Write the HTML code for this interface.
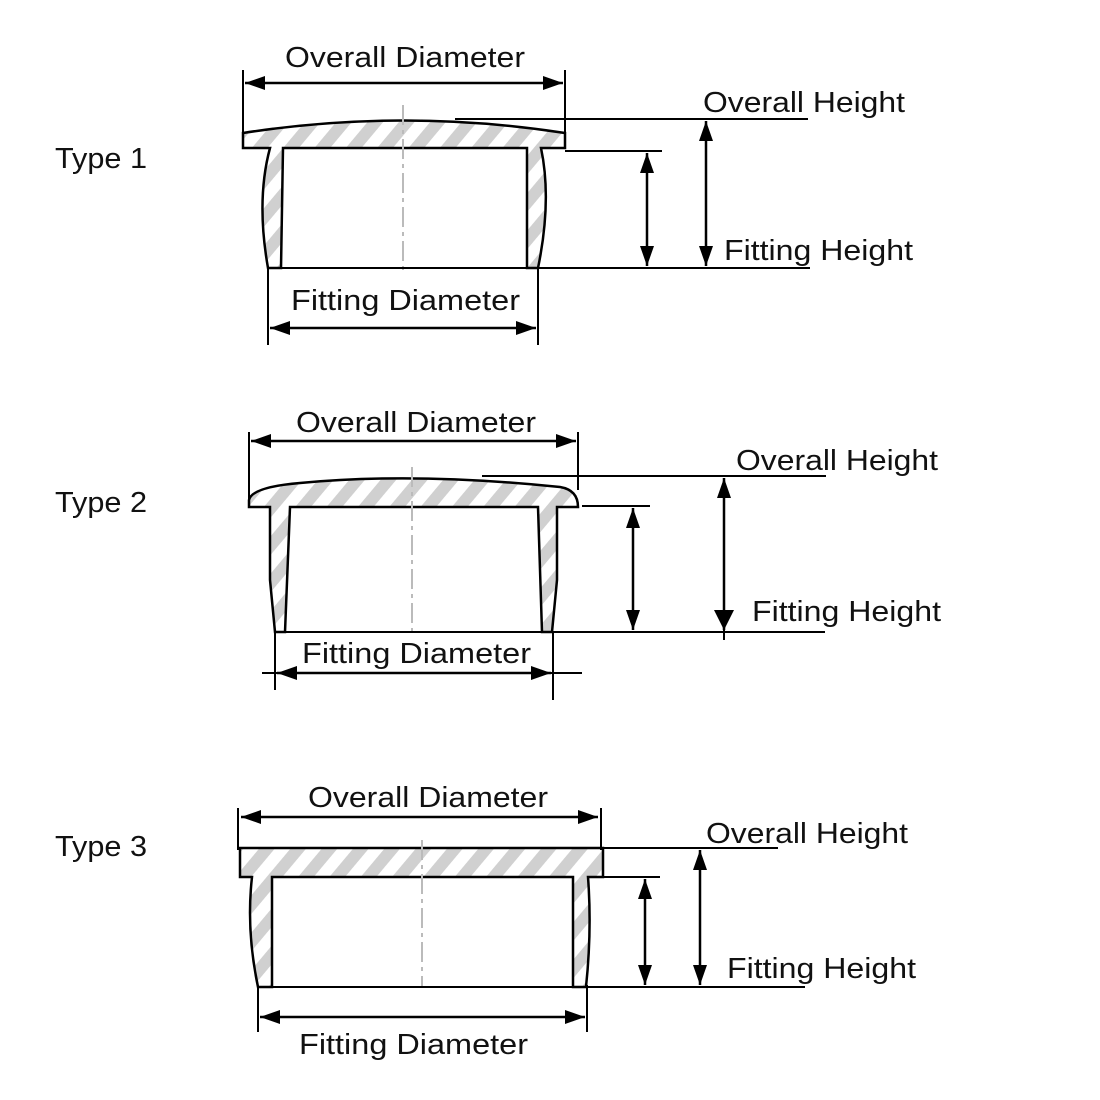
<!DOCTYPE html>
<html><head><meta charset="utf-8"><style>html,body{margin:0;padding:0;background:#fff}svg{display:block}text{font-family:"Liberation Sans",sans-serif;font-size:29px;fill:#111}</style></head>
<body>
<svg width="1100" height="1100" viewBox="0 0 1100 1100" xmlns="http://www.w3.org/2000/svg">
<defs>
<pattern id="h" patternUnits="userSpaceOnUse" width="24" height="24" patternTransform="rotate(40)">
<rect width="24" height="24" fill="#fff"/><rect width="12" height="24" fill="#d0d0d0"/></pattern>
<marker id="a" viewBox="0 0 20 14" refX="20" refY="7" markerWidth="20" markerHeight="14" markerUnits="userSpaceOnUse" orient="auto-start-reverse"><path d="M0,0L20,7L0,14z" fill="#000"/></marker>
</defs>
<g stroke="#000" stroke-width="2.5" fill="none">
<path d="M243,133 Q403,108 565,133 L565,148 L541,148 Q552,200 538,268 L527,268 L527,148 L283,148 L281,268 L268,268 Q256,200 270,148 L243,148 Z" fill="url(#h)"/>
<line x1="403" y1="105" x2="403" y2="270" stroke="#bbb" stroke-width="2" stroke-dasharray="20,5,4,5"/>
<line x1="243" y1="70" x2="243" y2="140" stroke-width="2"/>
<line x1="565" y1="70" x2="565" y2="145" stroke-width="2"/>
<line x1="245" y1="83" x2="563" y2="83" marker-start="url(#a)" marker-end="url(#a)"/>
<line x1="455" y1="119" x2="808" y2="119" stroke-width="2"/>
<line x1="565" y1="151" x2="662" y2="151" stroke-width="2"/>
<line x1="268" y1="268" x2="810" y2="268" stroke-width="2"/>
<line x1="647" y1="153" x2="647" y2="266" marker-start="url(#a)" marker-end="url(#a)"/>
<line x1="706" y1="121" x2="706" y2="266" marker-start="url(#a)" marker-end="url(#a)"/>
<line x1="268" y1="268" x2="268" y2="345" stroke-width="2"/>
<line x1="538" y1="268" x2="538" y2="345" stroke-width="2"/>
<line x1="270" y1="328" x2="536" y2="328" marker-start="url(#a)" marker-end="url(#a)"/>
<path d="M249,500 Q252,487 300,483 Q415,472 560,487 Q578,490 578,507 L557,507 L557,580 L552,632 L542,632 L538,507 L290,507 L285,632 L275,632 L270,580 L270,507 L249,507 Z" fill="url(#h)"/>
<line x1="412" y1="467" x2="412" y2="632" stroke="#bbb" stroke-width="2" stroke-dasharray="20,5,4,5"/>
<line x1="249" y1="432" x2="249" y2="500" stroke-width="2"/>
<line x1="578" y1="432" x2="578" y2="490" stroke-width="2"/>
<line x1="251" y1="441" x2="576" y2="441" marker-start="url(#a)" marker-end="url(#a)"/>
<line x1="482" y1="476" x2="826" y2="476" stroke-width="2"/>
<line x1="582" y1="506" x2="650" y2="506" stroke-width="2"/>
<line x1="275" y1="632" x2="825" y2="632" stroke-width="2"/>
<line x1="633" y1="508" x2="633" y2="630" marker-start="url(#a)" marker-end="url(#a)"/>
<line x1="724" y1="478" x2="724" y2="630" marker-start="url(#a)"/>
<line x1="724" y1="600" x2="724" y2="640" stroke-width="2"/>
<polygon points="714,610 734,610 724,630" fill="#000" stroke="none"/>
<line x1="275" y1="632" x2="275" y2="690" stroke-width="2"/>
<line x1="553" y1="632" x2="553" y2="700" stroke-width="2"/>
<line x1="262" y1="673" x2="582" y2="673" stroke-width="2"/>
<line x1="277" y1="673" x2="551" y2="673" marker-start="url(#a)" marker-end="url(#a)"/>
<path d="M240,848 L603,848 L603,877 L588,877 Q592,930 586,987 L573,987 L573,877 L272,877 L272,987 L258,987 Q246,930 252,877 L240,877 Z" fill="url(#h)"/>
<line x1="422" y1="840" x2="422" y2="987" stroke="#bbb" stroke-width="2" stroke-dasharray="20,5,4,5"/>
<line x1="238" y1="808" x2="238" y2="850" stroke-width="2"/>
<line x1="601" y1="808" x2="601" y2="850" stroke-width="2"/>
<line x1="241" y1="817" x2="598" y2="817" marker-start="url(#a)" marker-end="url(#a)"/>
<line x1="603" y1="848" x2="778" y2="848" stroke-width="2"/>
<line x1="590" y1="877" x2="660" y2="877" stroke-width="2"/>
<line x1="258" y1="987" x2="805" y2="987" stroke-width="2"/>
<line x1="645" y1="879" x2="645" y2="985" marker-start="url(#a)" marker-end="url(#a)"/>
<line x1="700" y1="850" x2="700" y2="985" marker-start="url(#a)" marker-end="url(#a)"/>
<line x1="258" y1="987" x2="258" y2="1032" stroke-width="2"/>
<line x1="587" y1="985" x2="587" y2="1032" stroke-width="2"/>
<line x1="260" y1="1017" x2="585" y2="1017" marker-start="url(#a)" marker-end="url(#a)"/>
</g>
<text x="55" y="168" textLength="92" lengthAdjust="spacingAndGlyphs">Type 1</text>
<text x="55" y="512" textLength="92" lengthAdjust="spacingAndGlyphs">Type 2</text>
<text x="55" y="856" textLength="92" lengthAdjust="spacingAndGlyphs">Type 3</text>
<text x="285" y="67" textLength="240" lengthAdjust="spacingAndGlyphs">Overall Diameter</text>
<text x="703" y="112" textLength="202" lengthAdjust="spacingAndGlyphs">Overall Height</text>
<text x="724" y="260" textLength="189" lengthAdjust="spacingAndGlyphs">Fitting Height</text>
<text x="291" y="310" textLength="229" lengthAdjust="spacingAndGlyphs">Fitting Diameter</text>
<text x="296" y="432" textLength="240" lengthAdjust="spacingAndGlyphs">Overall Diameter</text>
<text x="736" y="470" textLength="202" lengthAdjust="spacingAndGlyphs">Overall Height</text>
<text x="752" y="621" textLength="189" lengthAdjust="spacingAndGlyphs">Fitting Height</text>
<text x="302" y="663" textLength="229" lengthAdjust="spacingAndGlyphs">Fitting Diameter</text>
<text x="308" y="807" textLength="240" lengthAdjust="spacingAndGlyphs">Overall Diameter</text>
<text x="706" y="843" textLength="202" lengthAdjust="spacingAndGlyphs">Overall Height</text>
<text x="727" y="978" textLength="189" lengthAdjust="spacingAndGlyphs">Fitting Height</text>
<text x="299" y="1054" textLength="229" lengthAdjust="spacingAndGlyphs">Fitting Diameter</text>
</svg>
</body></html>
